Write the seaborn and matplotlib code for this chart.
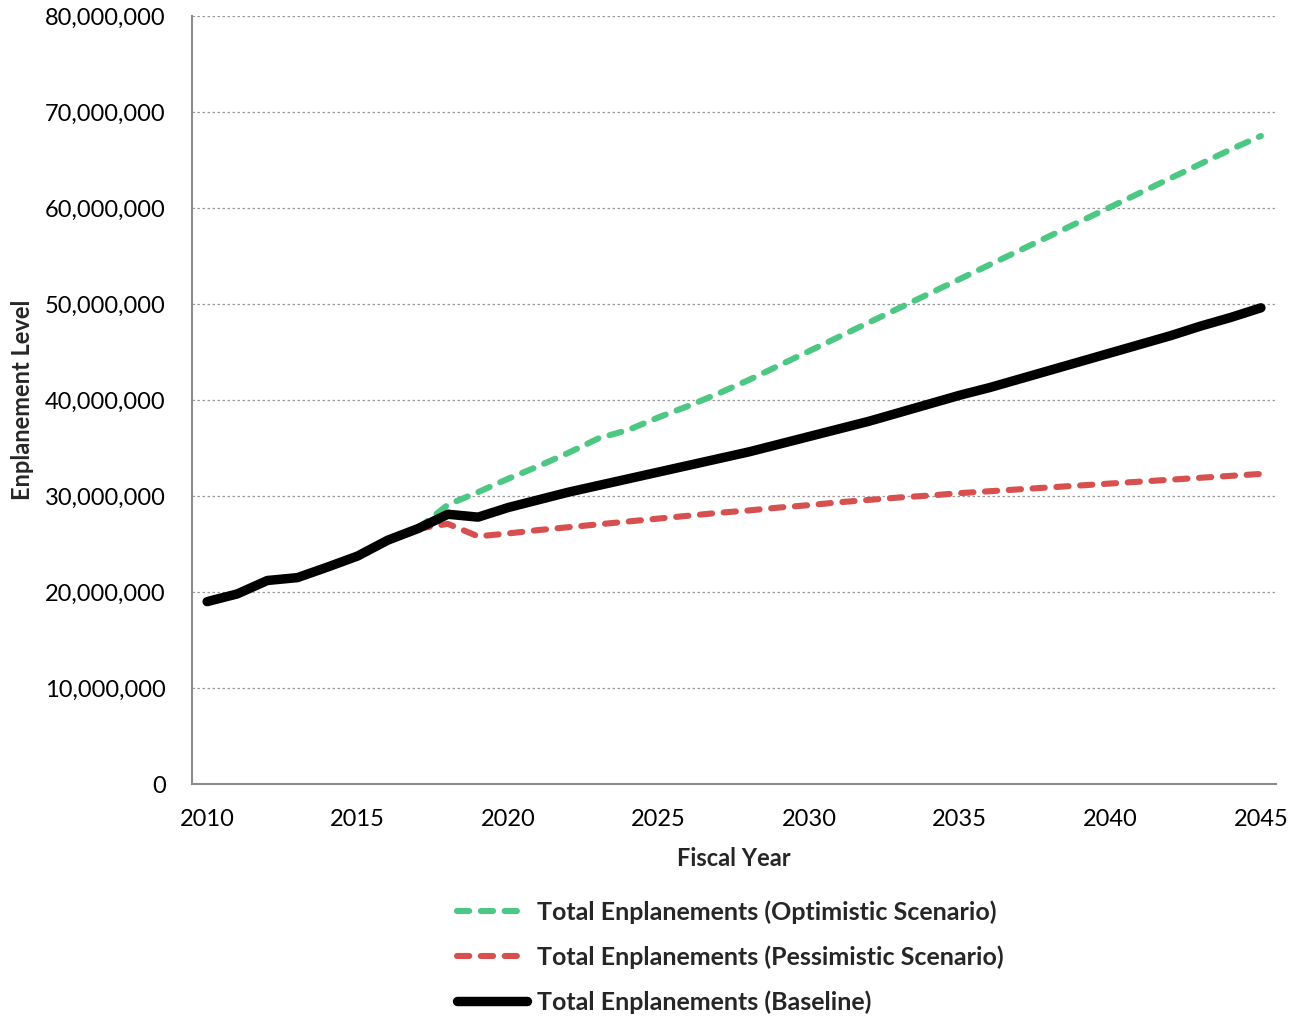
import numpy as np
import pandas as pd
import matplotlib
matplotlib.use("Agg")
import matplotlib.pyplot as plt
import seaborn as sns
from matplotlib.ticker import FuncFormatter, MultipleLocator

# --- data (values in millions) ---
base_years = list(range(2010, 2046))
baseline = [19.0, 19.8, 21.2, 21.5, 22.6, 23.75, 25.4, 26.6, 28.1, 27.8,
            28.8, 29.6, 30.4, 31.1, 31.8, 32.5, 33.2, 33.9, 34.6, 35.4,
            36.2, 37.0, 37.8, 38.7, 39.6, 40.5, 41.3, 42.2, 43.1, 44.0,
            44.9, 45.8, 46.7, 47.7, 48.6, 49.6]

scen_years = list(range(2017, 2046))
optimistic = [26.6, 29.1, 30.4, 31.8, 33.1, 34.5, 36.0, 36.9, 38.2, 39.4,
              40.7, 42.1, 43.6, 45.1, 46.6, 48.1, 49.6, 51.1, 52.6, 54.1,
              55.6, 57.1, 58.6, 60.1, 61.6, 63.1, 64.6, 66.1, 67.5]
pessimistic = [26.6, 27.1, 25.8, 26.1, 26.45, 26.75, 27.05, 27.35, 27.65, 27.95,
               28.25, 28.5, 28.8, 29.05, 29.35, 29.6, 29.85, 30.05, 30.3, 30.5,
               30.7, 30.9, 31.1, 31.3, 31.5, 31.7, 31.9, 32.1, 32.3]

labels = ["Total Enplanements (Optimistic Scenario)",
          "Total Enplanements (Pessimistic Scenario)",
          "Total Enplanements (Baseline)"]

df_opt = pd.DataFrame({"year": scen_years, "value": np.array(optimistic) * 1e6})
df_pes = pd.DataFrame({"year": scen_years, "value": np.array(pessimistic) * 1e6})
df_base = pd.DataFrame({"year": base_years, "value": np.array(baseline) * 1e6})

sns.set_theme(style="white")
plt.rcParams['font.family'] = ['Lato', 'DejaVu Sans']

fig = plt.figure(figsize=(13.02, 10.16), dpi=100)
ax = fig.add_axes([0.1475, 0.2283, 0.8325, 0.756])

GREEN = "#4dc884"
RED = "#d75050"
GRAY = "#8c8c8c"
DASH = (0, (2.0, 1.9))

sns.lineplot(data=df_opt, x="year", y="value", ax=ax, color=GREEN, linewidth=4.4,
             label=labels[0], linestyle=DASH, dash_capstyle="round")
sns.lineplot(data=df_pes, x="year", y="value", ax=ax, color=RED, linewidth=4.4,
             label=labels[1], linestyle=DASH, dash_capstyle="round")
sns.lineplot(data=df_base, x="year", y="value", ax=ax, color="black", linewidth=6.8,
             label=labels[2], solid_capstyle="round", solid_joinstyle="round")

ax.set_xlim(2009.5, 2045.5)
ax.set_ylim(0, 80e6)
ax.set_xticks(list(range(2010, 2046, 5)))
ax.xaxis.set_minor_locator(MultipleLocator(1, offset=0.5))
ax.yaxis.set_major_locator(MultipleLocator(10e6))
ax.yaxis.set_major_formatter(FuncFormatter(lambda v, p: f"{int(v):,}"))

ax.tick_params(axis="x", which="major", length=0, labelsize=17, pad=18, colors="black")
ax.tick_params(axis="x", which="minor", length=8, width=1.5, color=GRAY, direction="out")
ax.tick_params(axis="y", which="major", length=8, width=1.5, color=GRAY, direction="out",
               labelsize=17, pad=11, labelcolor="black")

ax.grid(axis="y", linestyle=(0, (2, 2)), color="#9a9a9a", linewidth=0.9)
ax.set_axisbelow(True)
for side in ["top", "right"]:
    ax.spines[side].set_visible(False)
for side in ["left", "bottom"]:
    ax.spines[side].set_color(GRAY)
    ax.spines[side].set_linewidth(1.5)

ax.set_xlabel("Fiscal Year", fontsize=17, fontweight="bold", labelpad=12)
ax.set_ylabel("Enplanement Level", fontsize=17, fontweight="bold", labelpad=8)

handles, lbls = ax.get_legend_handles_labels()
ax.get_legend().remove()
fig.legend(handles, lbls, loc="upper center", bbox_to_anchor=(0.561, 0.136),
           frameon=False, prop={"weight": "bold", "size": 18},
           handlelength=2.8, handletextpad=0.4, labelspacing=0.86)

fig.savefig("out.png", dpi=100)
